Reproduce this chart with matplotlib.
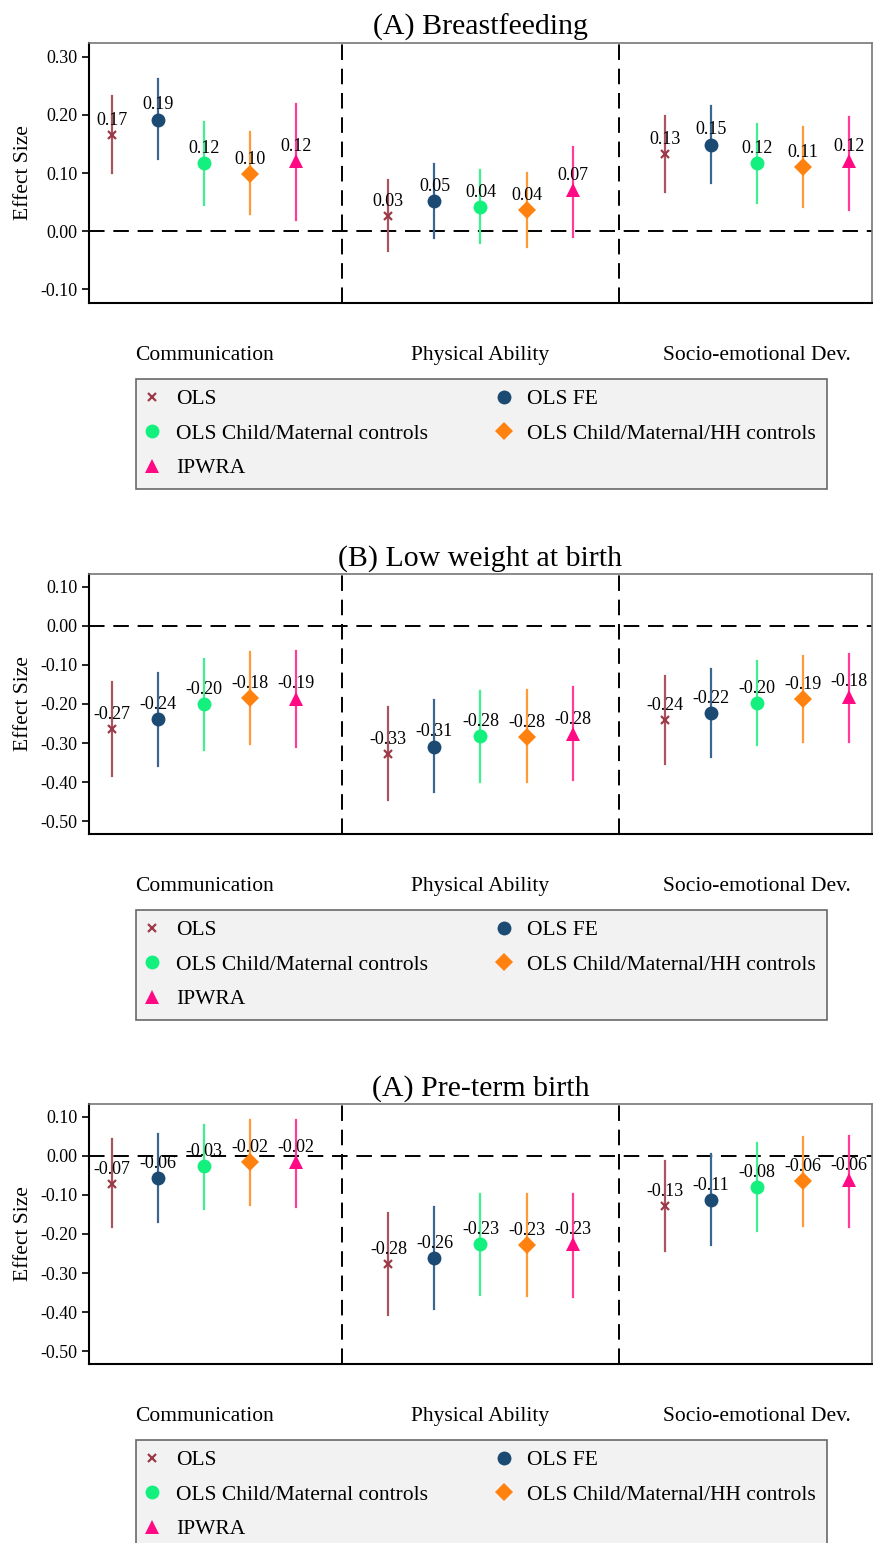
# -*- coding: utf-8 -*-
"""

Coefficient plots of the effect sizes for three exposures

"""

import matplotlib
matplotlib.use("Agg")
import matplotlib.pyplot as plt
from matplotlib.lines import Line2D

plt.rcParams['font.family'] = ['Liberation Serif', 'DejaVu Serif']

# Labels
outcomes = ['Communication', 'Physical Ability', 'Socio-emotional Dev.']
methods = ['OLS', 'OLS FE', 'OLS Child/Maternal controls',
           'OLS Child/Maternal/HH controls', 'IPWRA']
titles = ['(A) Breastfeeding', '(B) Low weight at birth', '(A) Pre-term birth']

# Point estimates, one row per outcome, one column per method
bf_est = [[0.166, 0.192, 0.118, 0.099, 0.121],
          [0.026, 0.052, 0.042, 0.036, 0.071],
          [0.132, 0.149, 0.118, 0.111, 0.120]]
bf_lo = [[0.100, 0.124, 0.046, 0.029, 0.020],
         [-0.034, -0.011, -0.021, -0.027, -0.009],
         [0.068, 0.083, 0.049, 0.042, 0.037]]
bf_hi = [[0.233, 0.261, 0.188, 0.170, 0.219],
         [0.088, 0.115, 0.106, 0.100, 0.144],
         [0.198, 0.216, 0.185, 0.180, 0.197]]

lbw_est = [[-0.265, -0.239, -0.200, -0.184, -0.186],
           [-0.329, -0.309, -0.282, -0.284, -0.276],
           [-0.241, -0.224, -0.198, -0.187, -0.181]]
lbw_lo = [[-0.385, -0.358, -0.318, -0.302, -0.309],
          [-0.446, -0.426, -0.399, -0.399, -0.395],
          [-0.354, -0.336, -0.306, -0.297, -0.298]]
lbw_hi = [[-0.144, -0.121, -0.084, -0.068, -0.063],
          [-0.207, -0.190, -0.167, -0.165, -0.156],
          [-0.127, -0.110, -0.090, -0.078, -0.072]]

ptb_est = [[-0.072, -0.057, -0.027, -0.016, -0.016],
           [-0.277, -0.261, -0.226, -0.228, -0.226],
           [-0.128, -0.113, -0.080, -0.064, -0.062]]
ptb_lo = [[-0.183, -0.169, -0.136, -0.126, -0.130],
          [-0.408, -0.392, -0.356, -0.359, -0.361],
          [-0.244, -0.228, -0.192, -0.180, -0.182]]
ptb_hi = [[0.043, 0.056, 0.080, 0.093, 0.093],
          [-0.145, -0.130, -0.098, -0.098, -0.098],
          [-0.012, 0.005, 0.034, 0.049, 0.052]]

bf_ticks = [-0.10, 0.00, 0.10, 0.20, 0.30]
low_ticks = [-0.50, -0.40, -0.30, -0.20, -0.10, 0.00, 0.10]

# Styles
marker_styles = [
    dict(marker='x', color='#9b3b48', ms=6, mew=1.6),
    dict(marker='o', color='#1b4a72', ms=10, mew=0),
    dict(marker='o', color='#14f07e', ms=10, mew=0),
    dict(marker='D', color='#ff8210', ms=9, mew=0),
    dict(marker='^', color='#ff0a84', ms=10, mew=0),
]
line_colors = ['#a9545f', '#3c6690', '#3ff08f', '#ff9a3a', '#ff3d98']
dash = (0, (8, 4.5))


def draw_panel(ax, title, est, lo, hi, yticks, ylim):
    """Draw one coefficient panel with its legend

    Args:
        ax: matplotlib axes
        title (str): panel title
        est, lo, hi (list): estimates and confidence bounds
        yticks (list): tick values of the y axis
        ylim (tuple): y limits
    """
    for g in range(len(outcomes)):
        for m in range(len(methods)):
            x = g * 6 + m + 0.5
            ax.plot([x, x], [lo[g][m], hi[g][m]], color=line_colors[m],
                    lw=1.6, zorder=2)
            ax.plot([x], [est[g][m]], ls='none', zorder=3, **marker_styles[m])
            ax.annotate('%.2f' % est[g][m], (x, est[g][m]), xytext=(0, 10.5),
                        textcoords='offset points', ha='center', va='center',
                        fontsize=13, zorder=4)

    # Reference lines
    ax.axhline(0, color='black', lw=1.4, ls=dash, zorder=1)
    for xv in [5.5, 11.5]:
        ax.axvline(xv, color='black', lw=1.4, ls=dash, zorder=1)

    ax.set_xlim(0, 17)
    ax.set_ylim(*ylim)
    ax.set_yticks(yticks)
    ax.set_yticklabels(['%.2f' % t for t in yticks], fontsize=13)
    ax.set_xticks([2.5, 8.5, 14.5])
    ax.set_xticklabels(outcomes, fontsize=15.5)
    ax.tick_params(axis='x', length=0, pad=31)
    ax.tick_params(axis='y', length=5, width=1.2, direction='out')
    ax.set_ylabel('Effect Size', fontsize=15.5, labelpad=5)
    ax.set_title(title, fontsize=21.5, pad=6)

    for side in ['left', 'bottom']:
        ax.spines[side].set_color('black')
        ax.spines[side].set_linewidth(1.5)
    for side in ['top', 'right']:
        ax.spines[side].set_color('#777777')
        ax.spines[side].set_linewidth(1.2)

    # Legend below the panel, filled row by row
    handles = [Line2D([], [], ls='none', **s) for s in marker_styles]
    order = [0, 2, 4, 1, 3]
    leg = ax.legend([handles[i] for i in order], [methods[i] for i in order],
                    loc='upper left', bbox_to_anchor=(0.060, -0.391, 0.8825, 0.1),
                    mode='expand', ncol=2, fontsize=15.5, frameon=True,
                    fancybox=False, handlelength=0.5, handletextpad=0.85,
                    labelspacing=0.66, borderpad=0.5, borderaxespad=0)
    leg.get_frame().set_facecolor('#efefef')
    leg.get_frame().set_edgecolor('#444444')
    leg.get_frame().set_linewidth(1.2)


fig = plt.figure(figsize=(8.73, 15.43), dpi=100)
left, width = 89 / 873, 783 / 873
ax_a = fig.add_axes([left, 1 - 303 / 1543, width, 260 / 1543])
ax_b = fig.add_axes([left, 1 - 834 / 1543, width, 260 / 1543])
ax_c = fig.add_axes([left, 1 - 1364 / 1543, width, 260 / 1543])

draw_panel(ax_a, titles[0], bf_est, bf_lo, bf_hi, bf_ticks, (-0.1233, 0.3236))
draw_panel(ax_b, titles[1], lbw_est, lbw_lo, lbw_hi, low_ticks, (-0.533, 0.133))
draw_panel(ax_c, titles[2], ptb_est, ptb_lo, ptb_hi, low_ticks, (-0.533, 0.133))

fig.savefig('out.png', dpi=100)
